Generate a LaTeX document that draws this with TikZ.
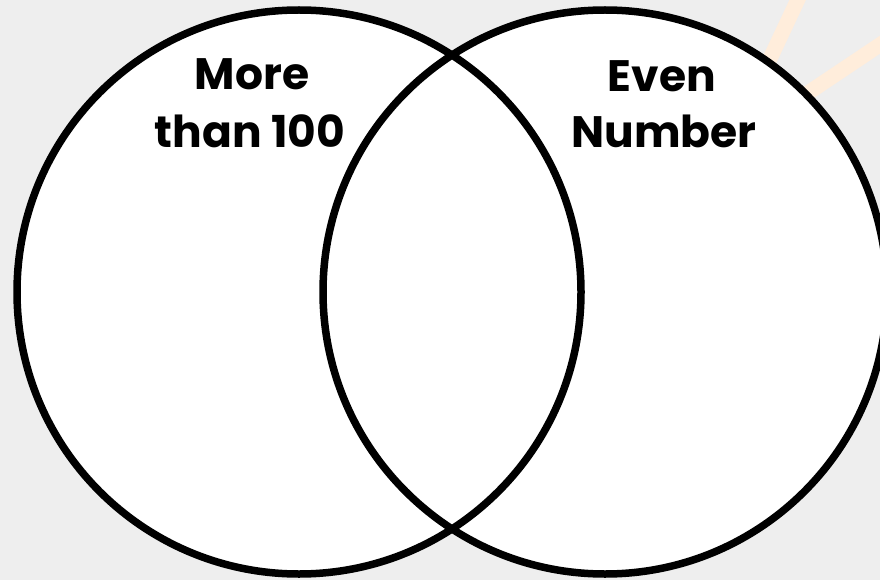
\documentclass[tikz,border=0pt]{standalone}
\usepackage{fontspec}
\newfontfamily\labfont{Poppins}
\begin{document}
\begin{tikzpicture}[x=1pt,y=-1pt,
  lab/.style={font=\labfont\bfseries\fontsize{44}{52}\selectfont, anchor=base, inner sep=0pt, text=black},
  ring/.style={draw=black, line width=7.5pt},
  beam/.style={line width=15pt, draw=orange!14!white, line cap=butt}]
\useasboundingbox (0,0) rectangle (880,580);
\fill[gray!13] (0,0) rectangle (880,580);
\draw[beam] (800,-5) -- (760,80);
\draw[beam] (890,38) -- (790,105);
\coordinate (cl) at (299,292);
\coordinate (cr) at (605,292);
\fill[white] (cl) circle (282);
\fill[white] (cr) circle (282);
\draw[ring] (cl) circle (282);
\draw[ring] (cr) circle (282);
\node[lab] (a1) at (252,90) {More};
\node[lab] (a2) at (250,148) {than 100};
\node[lab] (b1) at (662,92) {Even};
\node[lab] (b2) at (664,148) {Number};
\end{tikzpicture}
\end{document}
